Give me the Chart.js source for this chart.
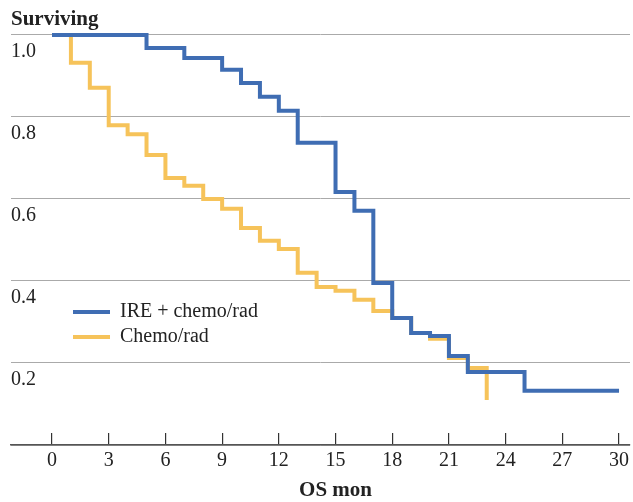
<!DOCTYPE html>
<html>
<head>
<meta charset="utf-8">
<script src="https://cdn.jsdelivr.net/npm/chart.js@4/dist/chart.umd.min.js"></script>
<style>
  html, body { margin: 0; padding: 0; background: #fff; }
  #wrap { width: 633px; height: 502px; position: relative; }
</style>
</head>
<body>
<div id="wrap"><canvas id="km"></canvas></div>
<script>
// tick values on the axes
var months = [0, 3, 6, 9, 12, 15, 18, 21, 24, 27, 30];
var survTicks = [0, 0.2, 0.4, 0.6, 0.8, 1.0];

// IRE + chemo/rad
var ireTime = [0, 5, 7, 9, 10, 11, 12, 13, 15, 16, 17, 18, 19, 20, 21, 22, 25, 30];
var ireSurv = [1.0, 0.968, 0.944, 0.915, 0.883, 0.849, 0.815, 0.737, 0.617, 0.571, 0.395, 0.31, 0.273, 0.266, 0.217, 0.178, 0.132, 0.132];

// Chemo/rad
var chemoTime = [0, 1, 2, 3, 4, 5, 6, 7, 8, 9, 10, 11, 12, 13, 14, 15, 16, 17, 18, 19, 20, 21, 22, 23];
var chemoSurv = [1.0, 0.932, 0.871, 0.78, 0.758, 0.707, 0.651, 0.632, 0.6, 0.576, 0.529, 0.498, 0.478, 0.42, 0.385, 0.376, 0.354, 0.327, 0.31, 0.273, 0.259, 0.212, 0.188, 0.11];

var xTitle = "OS mon";
var serif = "'Liberation Serif', 'Times New Roman', serif";

function toPoints(xs, ys) {
  return xs.map(function (x, i) { return { x: x, y: ys[i] }; });
}

// legend sits inside the plot, so move it there after layout
var legendSpot = {
  id: "legendSpot",
  afterLayout: function (chart) {
    var lg = chart.legend;
    var w = lg.width, h = lg.height;
    lg.left = 68;
    lg.top = 297;
    lg.right = lg.left + w;
    lg.bottom = lg.top + h;
  }
};

// x-axis title, centred under the 0..30 range rather than the whole plot
var axisTitle = {
  id: "axisTitle",
  afterDraw: function (chart) {
    var x = chart.scales.x;
    var mid = (x.getPixelForValue(months[0]) + x.getPixelForValue(months[months.length - 1])) / 2;
    var c = chart.ctx;
    c.save();
    c.font = "bold 21px " + serif;
    c.fillStyle = "#222";
    c.textAlign = "center";
    c.textBaseline = "middle";
    c.fillText(xTitle, mid, 491);
    c.restore();
  }
};

var ctx = document.getElementById("km");
var myChart = new Chart(ctx, {
  type: "line",
  data: {
    datasets: [
      {
        label: "IRE + chemo/rad",
        data: toPoints(ireTime, ireSurv),
        borderColor: "#3f6db3",
        backgroundColor: "#3f6db3",
        borderWidth: 4,
        stepped: true,
        pointRadius: 0,
        fill: false
      },
      {
        label: "Chemo/rad",
        data: toPoints(chemoTime, chemoSurv),
        borderColor: "#f6c35a",
        backgroundColor: "#f6c35a",
        borderWidth: 4,
        stepped: true,
        pointRadius: 0,
        fill: false
      }
    ]
  },
  options: {
    responsive: true,
    maintainAspectRatio: false,
    animation: false,
    layout: { padding: { left: 11, right: 3, top: 0, bottom: 14 } },
    plugins: {
      title: {
        display: true,
        text: "Surviving",
        align: "start",
        color: "#222",
        font: { family: serif, size: 21, weight: "bold", lineHeight: 1 },
        padding: { top: 9, bottom: 0 }
      },
      legend: {
        position: "chartArea",
        align: "start",
        labels: {
          usePointStyle: true,
          pointStyle: "line",
          pointStyleWidth: 37,
          padding: 5,
          color: "#222",
          font: { family: serif, size: 20 }
        }
      },
      tooltip: { enabled: false }
    },
    scales: {
      x: {
        type: "linear",
        min: -2.17,
        max: 30.58,
        afterBuildTicks: function (scale) {
          scale.ticks = months.map(function (v) { return { value: v }; });
        },
        grid: { drawOnChartArea: false, drawTicks: true, tickLength: -12, color: "#333", lineWidth: 1.2 },
        border: { display: true, color: "#555", width: 1.5 },
        ticks: {
          padding: 3,
          maxRotation: 0,
          color: "#222",
          font: { family: serif, size: 20, lineHeight: 2.45 }
        }
      },
      y: {
        min: 0,
        max: 1.012,
        afterBuildTicks: function (scale) {
          scale.ticks = survTicks.map(function (v) { return { value: v }; });
        },
        grid: { color: "#aaa", lineWidth: 1, drawTicks: false },
        border: { display: false },
        ticks: {
          mirror: true,
          padding: 0,
          labelOffset: 17,
          color: "#222",
          font: { family: serif, size: 20 },
          callback: function (v) { return v === 0 ? "" : v.toFixed(1); }
        }
      }
    }
  },
  plugins: [legendSpot, axisTitle]
});
</script>
</body>
</html>
